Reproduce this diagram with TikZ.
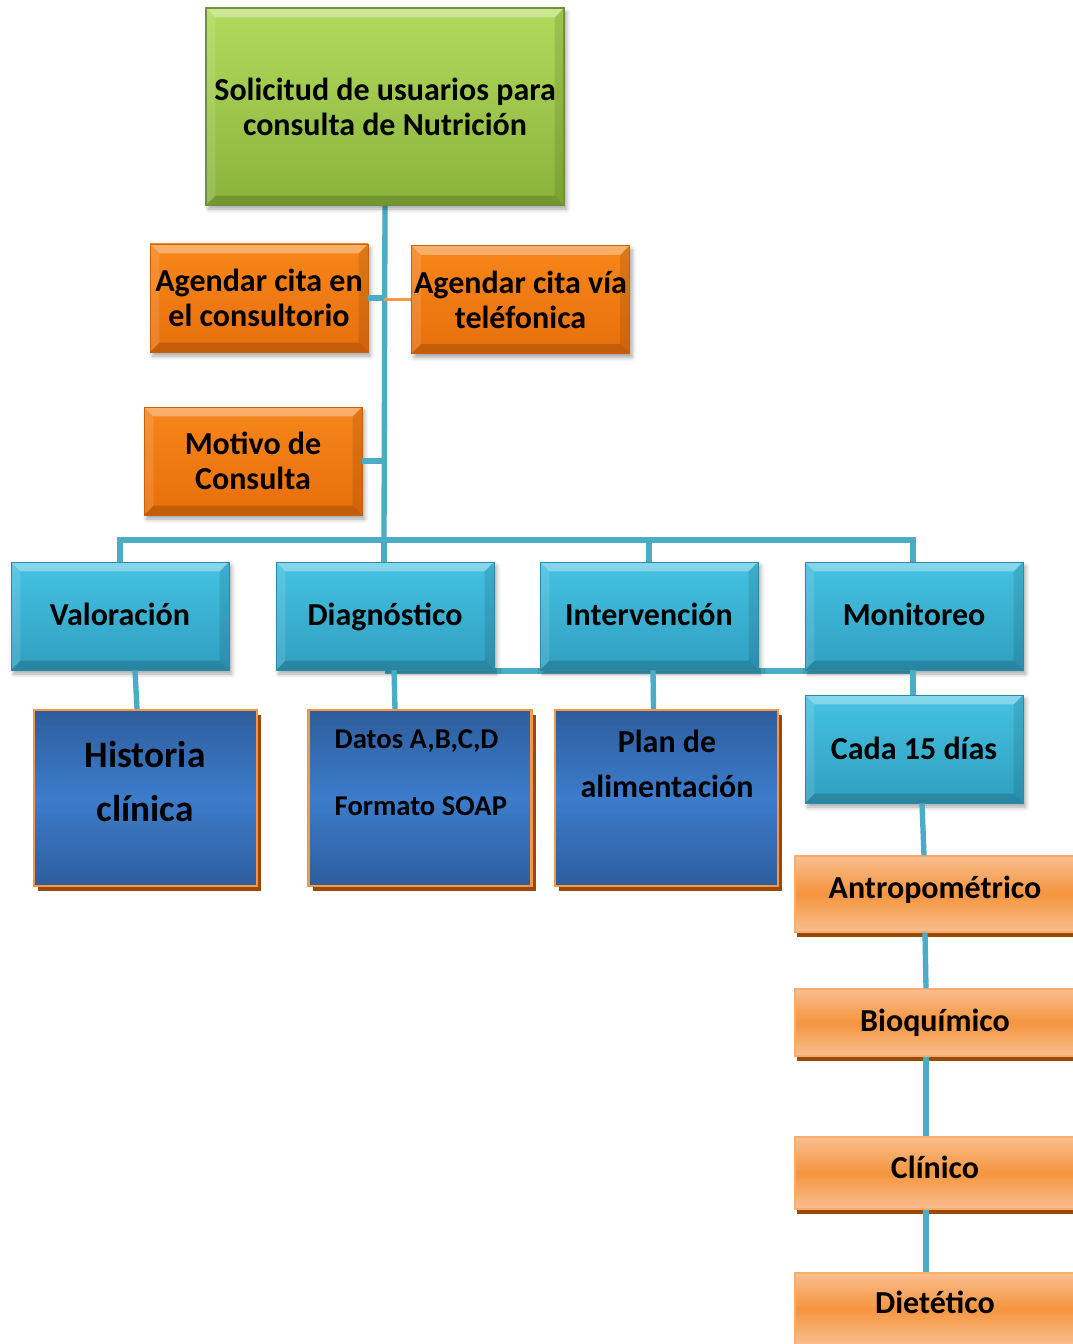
\documentclass[tikz,border=0pt]{standalone}
\usepackage{fontspec}
\setmainfont{Carlito}
\usetikzlibrary{shadows,shadows.blur,calc}
\definecolor{connc}{HTML}{4BACC6}
\definecolor{grtop}{HTML}{B2DA5C}
\definecolor{grbot}{HTML}{8AB33C}
\definecolor{grbord}{HTML}{71903A}
\definecolor{ortop}{HTML}{F6861A}
\definecolor{orbot}{HTML}{E86F0C}
\definecolor{orbord}{HTML}{C8600C}
\definecolor{bltop}{HTML}{45C2E2}
\definecolor{blbot}{HTML}{2F9FC0}
\definecolor{blbord}{HTML}{2C8AA8}
\definecolor{dbedge}{HTML}{2E5D9C}
\definecolor{dbmid}{HTML}{3C7CCB}
\definecolor{orline}{HTML}{F79646}
\definecolor{shbrown}{HTML}{994A08}
\definecolor{lotop}{HTML}{F9BE8E}
\definecolor{lomid}{HTML}{F5953F}
\tikzset{
  conn/.style={draw=connc, line width=4pt},
  bev/.style={path picture={
    \fill[white,opacity=0.35] (path picture bounding box.north west) -- (path picture bounding box.north east)
      -- ([xshift=-7pt,yshift=-7pt]path picture bounding box.north east) -- ([xshift=7pt,yshift=-7pt]path picture bounding box.north west) -- cycle;
    \fill[black,opacity=0.16] (path picture bounding box.south west) -- (path picture bounding box.south east)
      -- ([xshift=-7pt,yshift=7pt]path picture bounding box.south east) -- ([xshift=7pt,yshift=7pt]path picture bounding box.south west) -- cycle;
    \fill[white,opacity=0.12] (path picture bounding box.north west) -- ([xshift=7pt,yshift=-7pt]path picture bounding box.north west)
      -- ([xshift=7pt,yshift=7pt]path picture bounding box.south west) -- (path picture bounding box.south west) -- cycle;
    \fill[black,opacity=0.10] (path picture bounding box.north east) -- ([xshift=-7pt,yshift=-7pt]path picture bounding box.north east)
      -- ([xshift=-7pt,yshift=7pt]path picture bounding box.south east) -- (path picture bounding box.south east) -- cycle;
  }},
  bigfont/.style={font=\fontsize{24}{26.25}\selectfont\bfseries},
  oneline/.style={text height=14.6pt, text depth=0pt},
  softbox/.style={rectangle, inner sep=0pt, align=center, bev,
    blur shadow={shadow xshift=2pt, shadow yshift=-3pt, shadow blur radius=3pt, shadow opacity=35}},
  greenbox/.style={softbox, top color=grtop, bottom color=grbot, draw=grbord, line width=1pt,
    minimum width=268.5pt, minimum height=147.75pt, bigfont},
  orbox/.style={softbox, top color=ortop, bottom color=orbot, draw=orbord, line width=0.6pt,
    minimum width=163.5pt, minimum height=81pt, bigfont},
  blbox/.style={softbox, top color=bltop, bottom color=blbot, draw=blbord, line width=0.6pt,
    minimum width=163.5pt, minimum height=81pt, bigfont, oneline},
  dbbox/.style={rectangle, inner sep=0pt, top color=dbedge, bottom color=dbedge, middle color=dbmid,
    draw=orline, line width=1.6pt, minimum width=167.25pt, minimum height=132pt,
    drop shadow={shadow xshift=3pt, shadow yshift=-4pt, fill=shbrown, opacity=1}},
  lobox/.style={rectangle, inner sep=0pt, top color=lotop, bottom color=lotop, middle color=lomid,
    draw=orline!80!white, line width=1pt, minimum width=210pt,
    drop shadow={shadow xshift=1.5pt, shadow yshift=-4pt, fill=shbrown, opacity=1},
    bigfont, text height=10pt, text depth=4pt},
  dbtext/.style={align=center}
}
\begin{document}
\begin{tikzpicture}[x=0.75pt,y=-0.75pt]
\useasboundingbox (0,0) rectangle (1073,1344);
\coordinate (bus) at (384,540);
% connectors behind boxes
\draw[conn] (385,205) -- (bus);
\draw[conn] (120,562) -- (120,540) -- (913,540) -- (913,562);
\draw[conn] (649,540) -- (649,562);
\draw[conn] (384,540) -- (384,562);
\draw[conn] (385,671) -- (913,671);

% top
\node[greenbox] (top) at (385,106.5) {Solicitud de usuarios para\\consulta de Nutrición};
\node[orbox] (agL) at (259,298) {Agendar cita en\\el consultorio};
\node[orbox] (agR) at (520.5,299.5) {Agendar cita vía\\teléfonica};
\node[orbox] (mot) at (253,461) {Motivo de\\Consulta};

\draw[conn] (agL.east) -- (agL.east -| bus);
\draw[draw=orline, line width=1.8pt] (agR.west) -- (agR.west -| bus);
\draw[conn] (mot.east) -- (mot.east -| bus);

% blue row
\node[blbox] (val) at (120,616) {Valoración};
\node[blbox] (diag) at (385,616) {Diagnóstico};
\node[blbox] (inte) at (649,616) {Intervención};
\node[blbox] (mon) at (914,616) {Monitoreo};

% dark blue boxes
\node[dbbox] (hist) at (145.5,798) {};
\node[dbbox] (datos) at (420,798) {};
\node[dbbox] (plan) at (666.5,798) {};
\node[dbtext, font=\fontsize{28}{40}\selectfont\bfseries] at (145,781.5) {Historia\\clínica};
\node[dbtext, align=left, anchor=west, font=\fontsize{21.5}{50}\selectfont\bfseries] at (330,772.5) {Datos A,B,C,D\\Formato SOAP};
\node[dbtext, font=\fontsize{24}{33.75}\selectfont\bfseries] at (667,763.5) {Plan de\\alimentación};

\draw[conn] ($(val.south)+(15,0)$) -- ($(hist.north)+(-8.5,0)$);
\draw[conn] ($(diag.south)+(9,0)$) -- ($(datos.north)+(-25,0)$);
\draw[conn] ($(inte.south)+(4,0)$) -- ($(plan.north)+(-13,0)$);

\node[blbox, text height=15pt] (cada) at (914,749) {Cada 15 días};
\draw[conn] ($(mon.south)+(-1,0)$) -- ($(cada.north)+(-1,0)$);

% light orange column
\node[lobox, minimum height=57pt] (antro) at (935,894) {Antropométrico};
\node[lobox, minimum height=50.25pt, text height=14pt, text depth=1.2pt] (bioq) at (935,1022.5) {Bioquímico};
\node[lobox, minimum height=54pt, text height=11.5pt, text depth=4pt] (clin) at (935,1173) {Clínico};
\node[lobox, minimum height=54pt] (diet) at (935,1309) {Dietético};

\draw[conn] ($(cada.south)+(8,0)$) -- ($(antro.north)+(-11,0)$);
\draw[conn] ($(antro.south)+(-10,0)$) -- ($(bioq.north)+(-9,0)$);
\draw[conn] ($(bioq.south)+(-9,0)$) -- ($(clin.north)+(-9,0)$);
\draw[conn] ($(clin.south)+(-9,0)$) -- ($(diet.north)+(-9,0)$);
\end{tikzpicture}
\end{document}
